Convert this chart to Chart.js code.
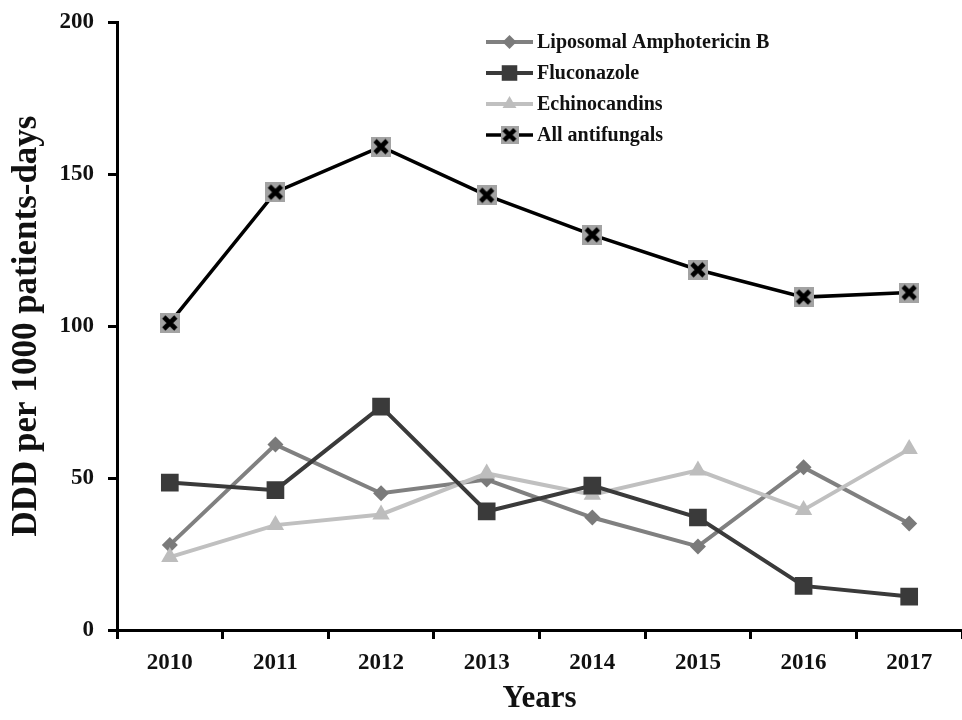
<!DOCTYPE html>
<html>
<head>
<meta charset="utf-8">
<script src="https://cdn.jsdelivr.net/npm/chart.js@4/dist/chart.umd.min.js"></script>
<style>
  html, body { margin: 0; padding: 0; background: #ffffff; overflow: hidden; }
  #wrap { width: 962px; height: 720px; position: relative; }
</style>
</head>
<body>
<div id="wrap"><canvas id="c" width="962" height="720"></canvas></div>
<script>
// ---- Data ----
const years = ['2010', '2011', '2012', '2013', '2014', '2015', '2016', '2017'];
const liposomalAmphotericinB = [28, 61, 45, 49.5, 37, 27.5, 53.5, 35];
const fluconazole = [48.5, 46, 73.5, 39, 47.5, 37, 14.5, 11];
const echinocandins = [24, 34.5, 38, 51.5, 44.5, 52.5, 39.5, 59.5];
const allAntifungals = [101, 144, 159, 143, 130, 118.5, 109.5, 111];
const seriesLabels = ['Liposomal Amphotericin B', 'Fluconazole', 'Echinocandins', 'All antifungals'];
const yTicks = [0, 50, 100, 150, 200];
const yTitle = 'DDD per 1000 patients-days';
const xTitle = 'Years';

// marker for "All antifungals": grey square with black cross
function makeCrossMarker(size, lw) {
  const c = document.createElement('canvas');
  c.width = size; c.height = size;
  const g = c.getContext('2d');
  g.fillStyle = '#a3a3a3';
  g.fillRect(0, 0, size, size);
  g.strokeStyle = '#000000';
  g.lineWidth = lw;
  g.lineCap = 'butt';
  const m = size * 0.2;
  g.beginPath();
  g.moveTo(m, m); g.lineTo(size - m, size - m);
  g.moveTo(size - m, m); g.lineTo(m, size - m);
  g.stroke();
  return c;
}
const crossMarker = makeCrossMarker(20, 4.6);
const crossMarkerSmall = makeCrossMarker(18, 4.4);

const serif = '"Liberation Serif", "Times New Roman", "DejaVu Serif", serif';

const insideLegend = {
  id: 'insideLegend',
  afterDraw(chart) {
    const ctx = chart.ctx;
    const x0 = 486, x1 = 533, tx = 537;
    const rowTop = 42, rowGap = 31;
    chart.data.datasets.forEach((ds, i) => {
      const y = rowTop + i * rowGap;
      const cx = (x0 + x1) / 2;
      ctx.save();
      ctx.strokeStyle = ds.borderColor;
      ctx.lineWidth = ds.borderWidth;
      ctx.beginPath(); ctx.moveTo(x0, y); ctx.lineTo(x1, y); ctx.stroke();
      const style = ds.legendPointStyle || ds.pointStyle;
      if (style instanceof HTMLCanvasElement) {
        ctx.drawImage(style, cx - style.width / 2, y - style.height / 2);
      } else {
        ctx.fillStyle = ds.pointBackgroundColor;
        Chart.helpers.drawPoint(ctx, {
          pointStyle: style, radius: ds.legendRadius || ds.pointRadius,
          rotation: ds.pointRotation || 0, borderWidth: 0
        }, cx, y);
      }
      ctx.fillStyle = '#111111';
      ctx.font = 'bold 20px ' + serif;
      ctx.textBaseline = 'middle';
      ctx.textAlign = 'left';
      ctx.fillText(ds.label, tx, y + 1);
      ctx.restore();
    });
  }
};

const tickFont = { family: serif, size: 23, weight: 'bold' };

new Chart(document.getElementById('c'), {
  type: 'line',
  data: {
    labels: years,
    datasets: [
      {
        label: seriesLabels[0], data: liposomalAmphotericinB,
        borderColor: '#808080', backgroundColor: '#808080', borderWidth: 4,
        pointStyle: 'rectRot', pointRadius: 8, legendRadius: 7,
        pointBackgroundColor: '#7a7a7a', pointBorderWidth: 0, order: 3
      },
      {
        label: seriesLabels[1], data: fluconazole,
        borderColor: '#3a3a3a', backgroundColor: '#3a3a3a', borderWidth: 4,
        pointStyle: 'rect', pointRadius: 12.5, legendRadius: 11,
        pointBackgroundColor: '#3a3a3a', pointBorderWidth: 0, order: 1
      },
      {
        label: seriesLabels[2], data: echinocandins,
        borderColor: '#c0c0c0', backgroundColor: '#c0c0c0', borderWidth: 4,
        pointStyle: 'triangle', pointRadius: 10, legendRadius: 8,
        pointBackgroundColor: '#bdbdbd', pointBorderWidth: 0, order: 2
      },
      {
        label: seriesLabels[3], data: allAntifungals,
        borderColor: '#000000', backgroundColor: '#000000', borderWidth: 3.5,
        pointStyle: crossMarker, legendPointStyle: crossMarkerSmall, pointRadius: 10,
        pointBackgroundColor: '#a3a3a3', pointBorderWidth: 0, order: 0
      }
    ]
  },
  options: {
    responsive: false,
    animation: false,
    devicePixelRatio: 1,
    layout: { autoPadding: false, padding: { top: 22, right: -4, left: 0, bottom: 0 } },
    elements: { line: { tension: 0 } },
    plugins: {
      legend: { display: false },
      tooltip: { enabled: false }
    },
    scales: {
      x: {
        type: 'category',
        offset: true,
        grid: { offset: true, drawOnChartArea: false, drawTicks: true, tickLength: 9, tickWidth: 3, tickColor: '#000000' },
        border: { display: true, width: 3, color: '#000000' },
        ticks: { font: tickFont, color: '#111111', padding: 10, maxRotation: 0 },
        title: { display: true, text: xTitle, font: { family: serif, size: 31, weight: 'bold' }, color: '#111111', padding: { top: 0, bottom: 2 } },
        afterFit(scale) { scale.height = 90; scale.paddingLeft = 0; scale.paddingRight = 0; }
      },
      y: {
        min: 0, max: 200,
        afterBuildTicks(scale) { scale.ticks = yTicks.map(v => ({ value: v })); },
        grid: { drawOnChartArea: false, drawTicks: true, tickLength: 9, tickWidth: 3, tickColor: '#000000' },
        border: { display: true, width: 3, color: '#000000' },
        ticks: { font: tickFont, color: '#111111', padding: 14 },
        title: { display: true, text: yTitle, font: { family: serif, size: 35, weight: 'bold' }, color: '#111111', padding: { top: 6, bottom: 0 } },
        afterFit(scale) { scale.width = 117; scale.paddingTop = 0; scale.paddingBottom = 0; }
      }
    }
  },
  plugins: [insideLegend]
});
</script>
</body>
</html>
